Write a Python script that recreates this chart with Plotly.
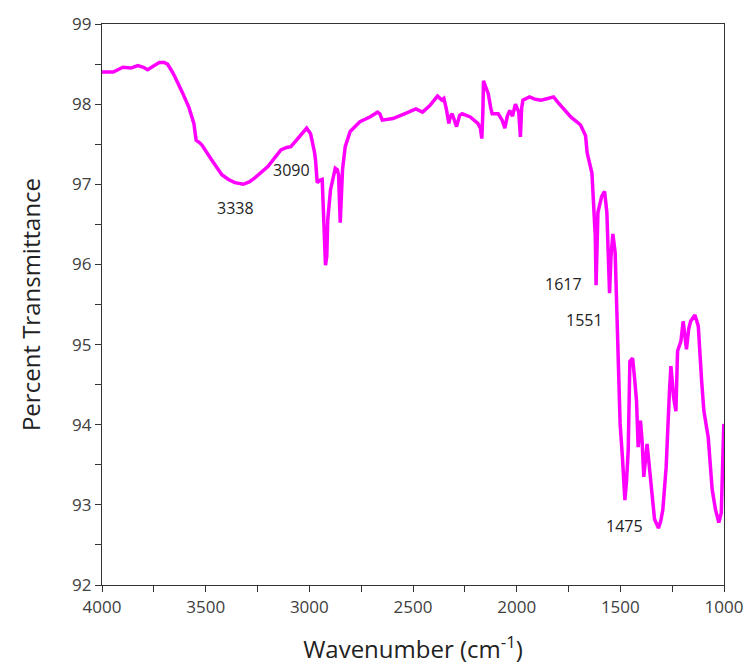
import plotly.graph_objects as go

wavenumber = [
    4000, 3946, 3899, 3860, 3827, 3800, 3780, 3750, 3724, 3700, 3684, 3665, 3652,
    3613, 3581, 3557, 3546, 3530, 3518, 3470, 3422, 3390, 3359, 3319, 3290, 3263,
    3200, 3137, 3110, 3089, 3070, 3049, 3013, 2994, 2975, 2970, 2962, 2950, 2938,
    2930, 2922, 2916, 2911, 2898, 2875, 2865, 2859, 2851, 2845, 2840, 2827, 2803,
    2756, 2708, 2671, 2660, 2648, 2597, 2541, 2486, 2454, 2420, 2382, 2360, 2351,
    2340, 2327, 2320, 2311, 2300, 2290, 2275, 2263, 2224, 2187, 2175, 2168, 2163,
    2160, 2150, 2137, 2125, 2118, 2089, 2070, 2057, 2045, 2033, 2020, 2006, 1990,
    1982, 1976, 1970, 1938, 1910, 1882, 1850, 1822, 1800, 1787, 1760, 1739, 1710,
    1692, 1668, 1660, 1637, 1621, 1617, 1608, 1590, 1576, 1565, 1552, 1545, 1536,
    1525, 1520, 1509, 1505, 1501, 1490, 1478, 1470, 1462, 1454, 1441, 1432, 1422,
    1414, 1403, 1395, 1387, 1371, 1360, 1351, 1335, 1316, 1305, 1295, 1279, 1263,
    1256, 1243, 1232, 1224, 1208, 1197, 1181, 1170, 1161, 1140, 1124, 1108, 1097,
    1076, 1057, 1041, 1025, 1013, 1006, 1001,
]
transmittance = [
    98.40, 98.40, 98.46, 98.45, 98.48, 98.46, 98.43, 98.48, 98.52, 98.52, 98.50, 98.42, 98.36,
    98.15, 97.96, 97.76, 97.55, 97.52, 97.49, 97.30, 97.12, 97.06, 97.02, 97.00, 97.03, 97.08,
    97.22, 97.43, 97.46, 97.47, 97.52, 97.59, 97.70, 97.63, 97.40, 97.30, 97.02, 97.05, 97.06,
    96.56, 95.99, 96.10, 96.56, 96.93, 97.20, 97.18, 97.12, 96.52, 96.90, 97.18, 97.47, 97.66,
    97.78, 97.84, 97.90, 97.88, 97.80, 97.82, 97.88, 97.94, 97.90, 97.98, 98.10, 98.05, 98.07,
    97.95, 97.76, 97.85, 97.88, 97.80, 97.72, 97.86, 97.88, 97.84, 97.76, 97.70, 97.57, 97.90,
    98.29, 98.22, 98.13, 97.95, 97.88, 97.88, 97.80, 97.70, 97.85, 97.92, 97.85, 98.00, 97.90,
    97.59, 97.95, 98.05, 98.09, 98.06, 98.05, 98.07, 98.09, 98.02, 97.98, 97.90, 97.84, 97.78,
    97.74, 97.61, 97.39, 97.14, 96.36, 95.74, 96.65, 96.85, 96.91, 96.65, 95.64, 96.10, 96.38,
    96.15, 95.70, 94.92, 94.71, 94.01, 93.60, 93.06, 93.30, 93.68, 94.79, 94.83, 94.60, 94.30,
    93.72, 94.05, 93.80, 93.35, 93.76, 93.50, 93.27, 92.82, 92.71, 92.80, 92.94, 93.47, 94.42,
    94.73, 94.34, 94.17, 94.92, 95.04, 95.29, 94.94, 95.20, 95.29, 95.37, 95.23, 94.55, 94.17,
    93.84, 93.19, 92.94, 92.78, 92.90, 93.47, 94.01,
]

peak_labels = ["3338", "3090", "1617", "1551", "1475"]
peak_label_x = [3355, 3086, 1776, 1672, 1481]
peak_label_y = [96.71, 97.18, 95.75, 95.31, 92.74]

x_tickvals = [4000, 3500, 3000, 2500, 2000, 1500, 1000]
y_tickvals = [92, 93, 94, 95, 96, 97, 98, 99]

FONT = "Open Sans"
AXIS_COLOR = "#333333"
TEXT_COLOR = "#404040"

fig = go.Figure()
fig.add_trace(go.Scatter(
    x=wavenumber, y=transmittance, mode="lines",
    line=dict(color="#FF00FF", width=3.5),
    showlegend=False, hoverinfo="skip",
))

for t, xv, yv in zip(peak_labels, peak_label_x, peak_label_y):
    fig.add_annotation(x=xv, y=yv, text=t, showarrow=False,
                       font=dict(family=FONT, size=16, color="#222222"))

fig.update_layout(
    width=755, height=670,
    margin=dict(l=102, r=23, t=19, b=84),
    paper_bgcolor="white", plot_bgcolor="white",
    font=dict(family=FONT, color=TEXT_COLOR),
)
fig.update_xaxes(
    range=[4000, 1000], tickvals=x_tickvals,
    ticks="outside", ticklen=6, tickwidth=1, tickcolor=AXIS_COLOR,
    minor=dict(dtick=250, tick0=4000, ticks="outside", ticklen=6, tickcolor=AXIS_COLOR),
    showline=True, linecolor=AXIS_COLOR, linewidth=1.2, mirror=True,
    showgrid=False, zeroline=False,
    tickfont=dict(family=FONT, size=17, color=TEXT_COLOR),
    title=dict(text="Wavenumber (cm<sup>-1</sup>)", standoff=24,
               font=dict(family=FONT, size=24, color="#222222")),
)
fig.update_yaxes(
    range=[92, 99], tickvals=y_tickvals,
    ticks="outside", ticklen=6, tickwidth=1, tickcolor=AXIS_COLOR,
    minor=dict(dtick=0.5, tick0=92, ticks="outside", ticklen=6, tickcolor=AXIS_COLOR),
    showline=True, linecolor=AXIS_COLOR, linewidth=1.2, mirror=True,
    showgrid=False, zeroline=False,
    tickfont=dict(family=FONT, size=17, color=TEXT_COLOR),
    title=dict(text="Percent Transmittance", standoff=24,
               font=dict(family=FONT, size=24, color="#222222")),
)

fig.write_html("out.html")
